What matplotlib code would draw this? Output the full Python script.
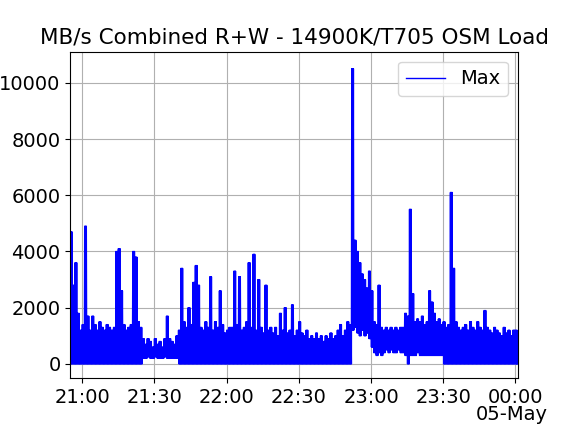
import matplotlib
matplotlib.use("Agg")
import matplotlib.pyplot as plt
import matplotlib.dates as mdates
import pandas as pd
import numpy as np

# per-minute peak (hi) and trough (lo), 20:55 .. 00:00
hi = [4700, 2800, 3600, 1800, 1200, 1400, 4900, 1700, 1200, 1700,
      1400, 1200, 1500, 1300, 1200, 1400, 1300, 1200, 1300, 4000,
      4100, 2600, 1400, 1200, 1300, 1400, 4000, 3800, 1500, 1300,
      900, 700, 900, 800, 600, 900, 700, 800, 600, 900,
      1700, 900, 800, 700, 1000, 1200, 3400, 1500, 1300, 2000,
      1400, 2900, 3500, 2800, 1300, 1200, 1500, 1300, 3100, 1200,
      1500, 1300, 2600, 1400, 1100, 1200, 1300, 1300, 3300, 1400,
      3100, 1200, 1300, 1500, 3600, 1300, 3900, 1200, 3000, 1300,
      1100, 2800, 1200, 1300, 1100, 1300, 1000, 1800, 1200, 2000,
      1100, 1200, 2100, 1000, 1200, 1500, 1100, 1000, 1200, 900,
      1000, 900, 1100, 900, 1000, 800, 1000, 900, 1100, 900,
      1000, 1200, 1400, 1000, 1200, 1500, 1400, 10500, 4400, 4000,
      3600, 3200, 3000, 2700, 3300, 2600, 1500, 1400, 2800, 1300,
      1200, 1300, 1200, 1300, 1200, 1300, 1200, 1300, 1300, 1800,
      1700, 5500, 2500, 1500, 1600, 1500, 1700, 1400, 1500, 2600,
      2200, 1800, 1500, 1600, 1400, 1500, 1300, 1400, 6100, 3400,
      1500, 1300, 1200, 1300, 1400, 1200, 1500, 1300, 1200, 1500,
      1300, 1200, 1900, 1300, 1200, 1100, 1300, 1200, 1100, 1000,
      1300, 1100, 1200, 1000, 1200, 1200]
lo = [0, 0, 0, 0, 0, 0, 0, 0, 0, 0,
      0, 0, 0, 0, 0, 0, 0, 0, 0, 0,
      0, 0, 0, 0, 0, 0, 0, 0, 0, 0,
      200, 200, 250, 200, 200, 250, 200, 200, 200, 250,
      200, 200, 200, 200, 200, 0, 0, 0, 0, 0,
      0, 0, 0, 0, 0, 0, 0, 0, 0, 0,
      0, 0, 0, 0, 0, 0, 0, 0, 0, 0,
      0, 0, 0, 0, 0, 0, 0, 0, 0, 0,
      0, 0, 0, 0, 0, 0, 0, 0, 0, 0,
      0, 0, 0, 0, 0, 0, 0, 0, 0, 0,
      0, 0, 0, 0, 0, 0, 0, 0, 0, 0,
      0, 0, 0, 0, 0, 0, 0, 1200, 1300, 1100,
      1000, 1200, 1000, 1100, 900, 600, 400, 300, 400, 300,
      400, 500, 400, 500, 400, 400, 500, 400, 400, 300,
      0, 300, 300, 300, 400, 300, 300, 300, 300, 300,
      300, 300, 300, 300, 300, 0, 0, 0, 0, 0,
      0, 0, 0, 0, 0, 0, 0, 0, 0, 0,
      0, 0, 0, 0, 0, 0, 0, 0, 0, 0,
      0, 0, 0, 0, 0, 0]

# each minute sampled as hi, lo, hi, lo, hi, lo at 10 s steps
reps = 3
t0 = pd.Timestamp("2024-05-04 20:55")
times = pd.date_range(t0, periods=2 * reps * len(hi), freq="10s")
vals = np.empty(2 * reps * len(hi))
for r in range(reps):
    vals[2 * r::2 * reps] = hi
    vals[2 * r + 1::2 * reps] = lo

plt.rcParams["font.size"] = 14
fig = plt.figure(figsize=(5.76, 4.32), dpi=100)
ax = fig.add_axes([0.122, 0.125, 0.777, 0.755])
ax.plot(times, vals, color="blue", linewidth=1, label="Max")
ax.set_xlim(pd.Timestamp("2024-05-04 20:55"), pd.Timestamp("2024-05-05 00:01"))
ax.set_ylim(-500, 11100)
ax.xaxis.set_major_locator(mdates.MinuteLocator(byminute=[0, 30]))
ax.xaxis.set_major_formatter(mdates.DateFormatter("%H:%M"))
ax.grid(True)
ax.legend(loc="upper right")
ax.set_title("MB/s Combined R+W - 14900K/T705 OSM Load", fontsize=15.5)
fig.text(0.951, 0.018, "05-May", ha="right", va="bottom", fontsize=14)

plt.savefig("out.png")
